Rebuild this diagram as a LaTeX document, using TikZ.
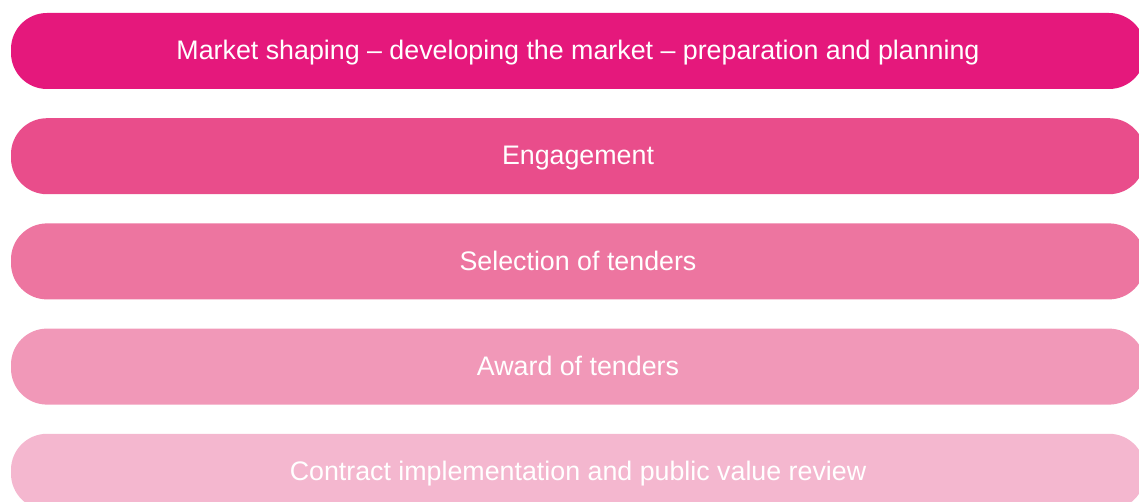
\documentclass[tikz,border=0pt]{standalone}
\usepackage{fontspec}
\setmainfont{Liberation Sans}
\usetikzlibrary{positioning}
\definecolor{stageA}{HTML}{E5187C}
\definecolor{stageB}{HTML}{E94D8B}
\definecolor{stageC}{HTML}{ED75A0}
\definecolor{stageD}{HTML}{F198B8}
\definecolor{stageE}{HTML}{F4B7CF}

\begin{document}
\begin{tikzpicture}[x=1pt,y=-1pt,
  pill/.style={rounded corners=36pt,minimum width=1134pt,minimum height=76pt,
    inner sep=0pt,text=white,text depth=2pt,font=\fontsize{26.8pt}{30pt}\selectfont}]
\useasboundingbox (0,0) rectangle (1139,502);
\clip (0,0) rectangle (1139,502);
\node[pill,fill=stageA] (shaping) at (578,51) {Market shaping -- developing the market -- preparation and planning};
\node[pill,fill=stageB,below=28.8pt of shaping] (engage) {Engagement};
\node[pill,fill=stageC,below=28.8pt of engage] (select) {Selection of tenders};
\node[pill,fill=stageD,below=28.8pt of select] (award) {Award of tenders};
\node[pill,fill=stageE,below=28.8pt of award] (contract) {Contract implementation and public value review};
\end{tikzpicture}
\end{document}
